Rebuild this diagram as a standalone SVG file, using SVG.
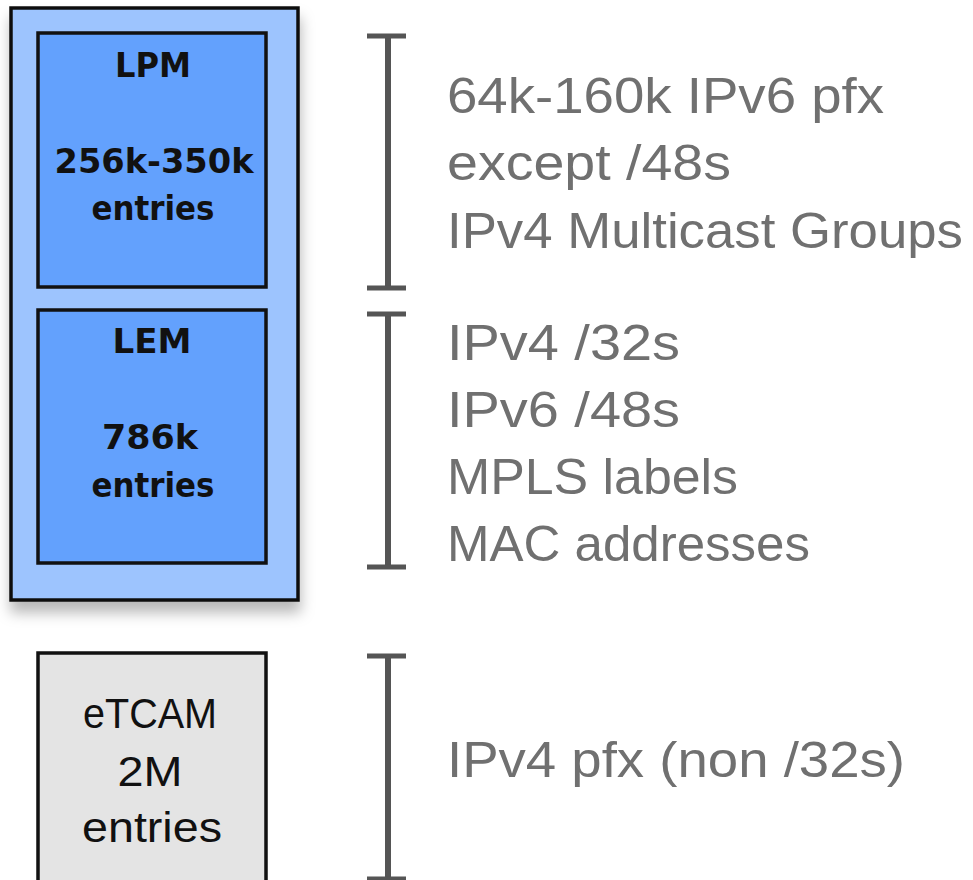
<svg xmlns="http://www.w3.org/2000/svg" width="973" height="880" viewBox="0 0 973 880">
<defs>
<filter id="sh" x="-10%" y="-10%" width="125%" height="125%">
<feDropShadow dx="1" dy="11" stdDeviation="7" flood-color="#000" flood-opacity="0.28"/>
</filter>
<style>
.box{stroke:#111;stroke-width:3.5}
.in{font-family:"DejaVu Sans",sans-serif;font-weight:bold;font-size:34px;fill:#111;text-anchor:middle}
.et{font-family:"Liberation Sans",Arial,sans-serif;font-size:43px;fill:#111;text-anchor:middle}
.br{stroke:#555;fill:none}
.v{stroke-width:6}
.c{stroke-width:5}
.lbl{font-family:"Liberation Sans",Arial,sans-serif;font-size:50px;fill:#707070}
</style>
</defs>
<rect width="973" height="880" fill="#fff"/>
<g id="chip">
<rect class="box" x="11" y="8" width="287" height="592" fill="#9DC4FE" filter="url(#sh)"/>
</g>
<g id="lpm">
<rect class="box" x="38" y="33" width="228" height="254" fill="#63A1FD"/>
<text class="in" x="153" y="77" textLength="76" lengthAdjust="spacingAndGlyphs">LPM</text>
<text class="in" x="154" y="173" textLength="199" lengthAdjust="spacingAndGlyphs">256k-350k</text>
<text class="in" x="153" y="220" textLength="123" lengthAdjust="spacingAndGlyphs">entries</text>
</g>
<g id="lem">
<rect class="box" x="38" y="310" width="228" height="253" fill="#63A1FD"/>
<text class="in" x="152" y="353" textLength="79" lengthAdjust="spacingAndGlyphs">LEM</text>
<text class="in" x="150" y="449" textLength="96" lengthAdjust="spacingAndGlyphs">786k</text>
<text class="in" x="153" y="497" textLength="123" lengthAdjust="spacingAndGlyphs">entries</text>
</g>
<g id="etcam">
<rect class="box" x="38" y="653" width="228" height="240" fill="#E4E4E4"/>
<text class="et" x="150" y="728" textLength="134" lengthAdjust="spacingAndGlyphs">eTCAM</text>
<text class="et" x="150" y="786" textLength="65" lengthAdjust="spacingAndGlyphs">2M</text>
<text class="et" x="152" y="842" textLength="140" lengthAdjust="spacingAndGlyphs">entries</text>
</g>
<g id="connectors">
<path class="br v" d="M388 36V288M388 314V567M388 656V879"/>
<path class="br c" d="M367 36H406M367 288H406M367 314H406M367 567H406M367 656H406M367 879H406"/>
</g>
<g id="labels">
<text class="lbl" x="447" y="113" textLength="437" lengthAdjust="spacingAndGlyphs">64k-160k IPv6 pfx</text>
<text class="lbl" x="447" y="180" textLength="284" lengthAdjust="spacingAndGlyphs">except /48s</text>
<text class="lbl" x="447" y="248" textLength="516" lengthAdjust="spacingAndGlyphs">IPv4 Multicast Groups</text>
<text class="lbl" x="447" y="360" textLength="233" lengthAdjust="spacingAndGlyphs">IPv4 /32s</text>
<text class="lbl" x="447" y="427" textLength="233" lengthAdjust="spacingAndGlyphs">IPv6 /48s</text>
<text class="lbl" x="447" y="494" textLength="291" lengthAdjust="spacingAndGlyphs">MPLS labels</text>
<text class="lbl" x="447" y="561" textLength="363" lengthAdjust="spacingAndGlyphs">MAC addresses</text>
<text class="lbl" x="447" y="777" textLength="458" lengthAdjust="spacingAndGlyphs">IPv4 pfx (non /32s)</text>
</g>
</svg>
